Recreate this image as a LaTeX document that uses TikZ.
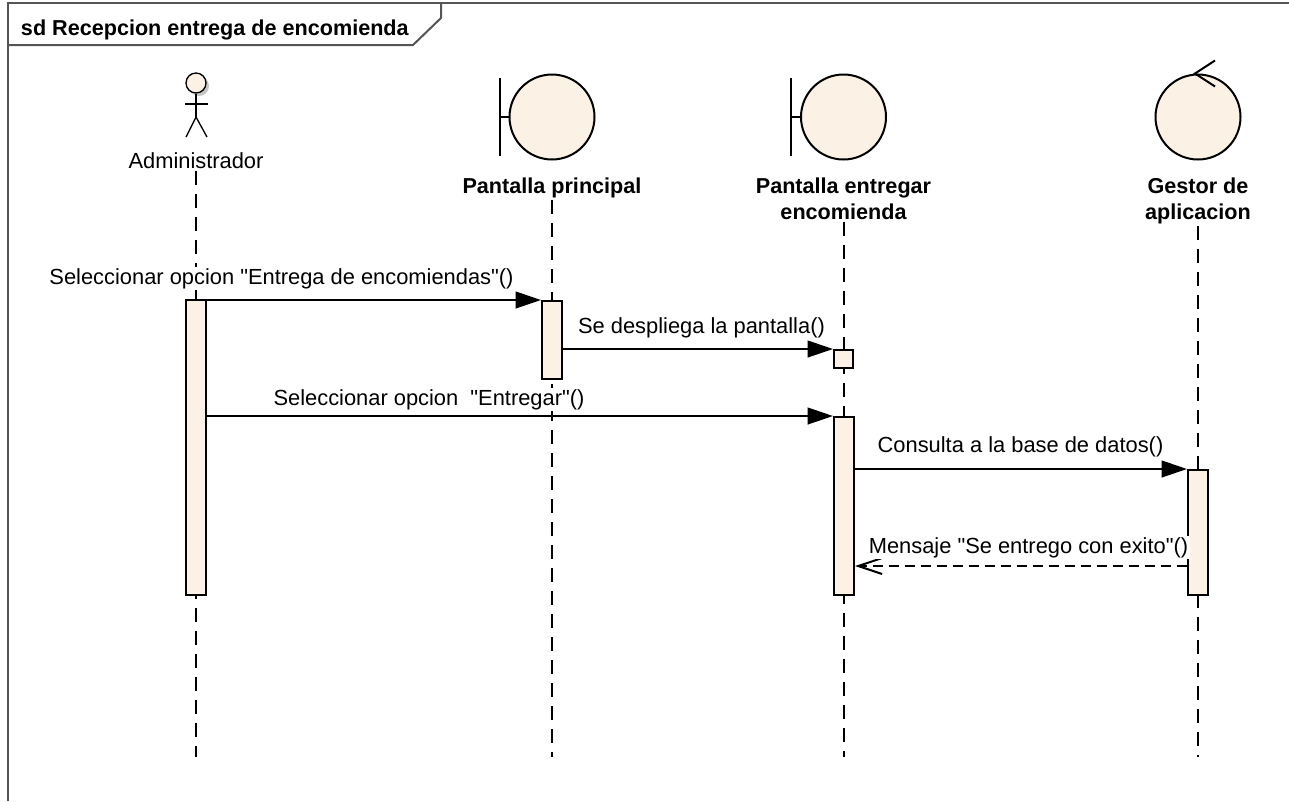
\documentclass[tikz,border=0pt]{standalone}
\usepackage{fontspec}
\setmainfont{Liberation Sans}
\usetikzlibrary{arrows.meta,calc,positioning}

\definecolor{eabeige}{RGB}{251,241,228}
\definecolor{framegray}{RGB}{85,85,85}

\tikzset{
  msglabel/.style={font=\fontsize{16.4}{19.5}\selectfont, fill=white, inner sep=1pt, anchor=base},
  headlabel/.style={font=\bfseries\fontsize{16.2}{19.5}\selectfont, align=center, inner sep=1pt, anchor=base},
  headcircle/.style={circle, draw, fill=eabeige, minimum size=63.75pt, inner sep=0pt},
  actbar/.style={rectangle, draw, fill=eabeige, minimum width=15pt, inner sep=0pt},
  lifeline/.style={dash pattern=on 10.5pt off 6.75pt},
  msg/.style={-{Triangle[length=19pt, width=12.5pt]}},
  reply/.style={dash pattern=on 7.5pt off 4.5pt, -{Straight Barb[length=18pt, width=12pt]}}
}

\begin{document}
\begin{tikzpicture}[x=0.75pt, y=-0.75pt, line width=1.5pt]
    \useasboundingbox (0,0) rectangle (1289,801);

    % frame and title
    \draw[framegray] (8,801) -- (8,3) -- (1289,3);
    \draw[framegray] (8,45) -- (413,45) -- (441,18) -- (441,3);
    \node[font=\bfseries\fontsize{16.2}{19.5}\selectfont, inner sep=0pt, anchor=base west] (title) at (20,35) {sd Recepcion entrega de encomienda};

    % actor
    \node[circle, fill=gray!45, minimum size=15pt, inner sep=0pt] at (199,86) {};
    \node[circle, draw, line width=1pt, fill=eabeige, minimum size=15pt, inner sep=0pt] (admHead) at (196,83) {};
    \draw[line width=1pt] (admHead.south) -- (196,117) coordinate (admHip);
    \draw[line width=1pt] (185,104) -- (208,104);
    \draw[line width=1pt] (186,137) -- (admHip) -- (207,137);
    \node[msglabel, fill=none] (admLbl) at (196,168) {Administrador};

    % boundaries and control
    \node[headcircle] (ppHead) at (552,117) {};
    \draw (ppHead.west) -- ([xshift=-6.4pt]ppHead.west) coordinate (ppB);
    \draw ([yshift=29pt]ppB) -- ([yshift=-29pt]ppB);
    \node[headlabel] (ppLbl) at (552,193) {Pantalla principal};

    \node[headcircle] (peHead) at (843.5,117) {};
    \draw (peHead.west) -- ([xshift=-6.4pt]peHead.west) coordinate (peB);
    \draw ([yshift=29pt]peB) -- ([yshift=-29pt]peB);
    \node[headlabel] (peLbl) at (843.5,219) {Pantalla entregar\\encomienda};

    \node[headcircle] (gesHead) at (1198,117) {};
    \draw ([xshift=12.75pt,yshift=9.75pt]gesHead.north) -- ([xshift=-2.25pt]gesHead.north)
        -- ([xshift=12.75pt,yshift=-9.75pt]gesHead.north);
    \node[headlabel] (gesLbl) at (1198,219) {Gestor de\\aplicacion};

    % lifelines
    \coordinate (lifeEnd) at (0,757);
    \draw[lifeline] (admLbl.south) -- (admLbl.south |- lifeEnd);
    \draw[lifeline] (ppLbl.south) -- (ppLbl.south |- lifeEnd);
    \draw[lifeline] (peLbl.south) -- (peLbl.south |- lifeEnd);
    \draw[lifeline] (gesLbl.south) -- (gesLbl.south |- lifeEnd);

    % activations
    \node[actbar, minimum height=221.25pt] (barAdm) at (196,447.5) {};
    \node[actbar, minimum height=58.5pt] (barPP) at (552,340) {};
    \node[actbar, minimum height=13.5pt, minimum width=14.25pt] (barPEs) at (843.5,359) {};
    \node[actbar, minimum height=133.5pt] (barPE) at (844,506) {};
    \node[actbar, minimum height=93.75pt] (barGes) at (1198,532.5) {};

    % messages
    \draw[msg] (barAdm.east |- barPP.north) -- (barPP.north west);
    \draw[msg] (barPP.east |- barPEs.north) -- (barPEs.north west);
    \draw[msg] (barAdm.east |- barPE.north) -- (barPE.north west);
    \draw[msg] (barPE.east |- barGes.north) -- (barGes.north west);
    \coordinate (retY) at (0,566);
    \draw[reply] (barGes.west |- retY) -- (barPE.east |- retY);

    \node[msglabel] (lblSel) at (281.5,284) {Seleccionar opcion \textquotedbl Entrega de encomiendas\textquotedbl()};
    \node[msglabel] (lblDesp) at (701.5,333) {Se despliega la pantalla()};
    \node[msglabel] (lblEnt) at (429,405) {Seleccionar opcion~ \textquotedbl Entregar\textquotedbl()};
    \node[msglabel] (lblCons) at (1020.5,452) {Consulta a la base de datos()};
    \node[msglabel] (lblMsj) at (1028.5,553) {Mensaje \textquotedbl Se entrego con exito\textquotedbl()};
\end{tikzpicture}
\end{document}
